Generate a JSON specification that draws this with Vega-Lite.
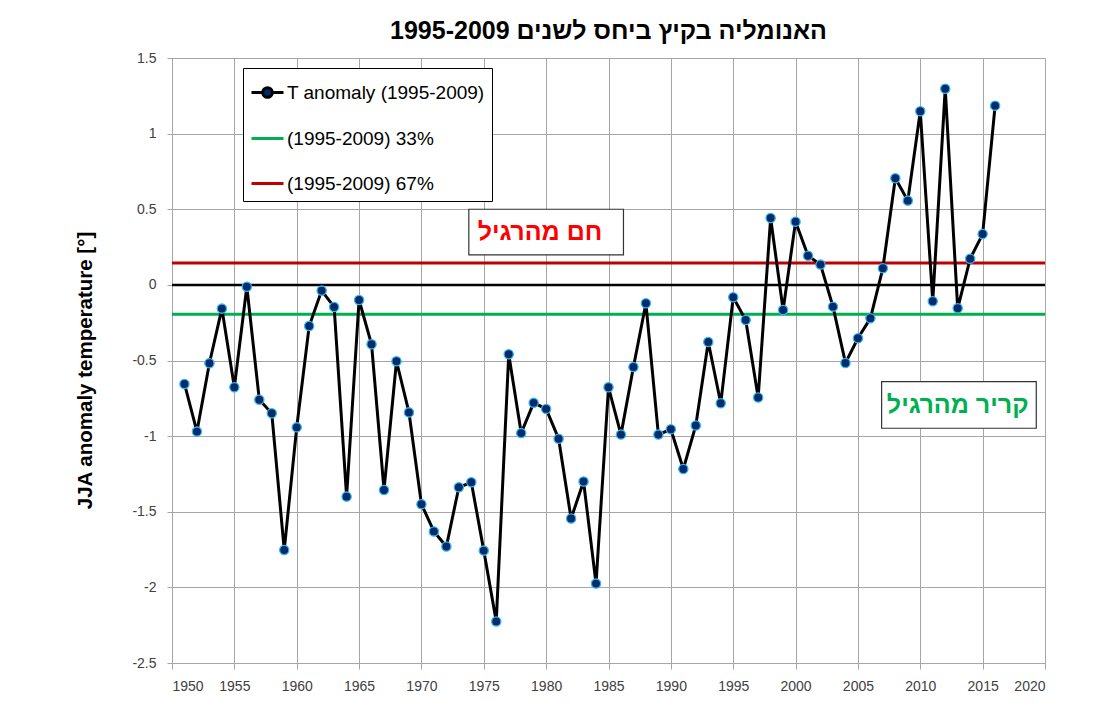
{
  "$schema": "https://vega.github.io/schema/vega-lite/v6.json",
  "width": 873,
  "height": 605,
  "autosize": {"type": "none"},
  "padding": {"left": 172, "top": 58, "right": 60, "bottom": 61},
  "background": "white",
  "title": {
    "text": "1995-2009 האנומליה בקיץ ביחס לשנים",
    "font": "Liberation Sans",
    "fontSize": 25,
    "fontWeight": "bold",
    "color": "#000000",
    "anchor": "middle",
    "offset": 7
  },
  "config": {
    "view": {"stroke": null},
    "axis": {
      "gridColor": "#a6a6a6",
      "gridWidth": 1,
      "domainColor": "#a6a6a6",
      "tickColor": "#a6a6a6",
      "labelFont": "Liberation Sans",
      "labelFontSize": 14,
      "labelColor": "#404040"
    }
  },
  "datasets": {
    "anom": [
      {"year": 1951, "value": -0.655, "series": "T anomaly (1995-2009)"},
      {"year": 1952, "value": -0.97, "series": "T anomaly (1995-2009)"},
      {"year": 1953, "value": -0.518, "series": "T anomaly (1995-2009)"},
      {"year": 1954, "value": -0.157, "series": "T anomaly (1995-2009)"},
      {"year": 1955, "value": -0.677, "series": "T anomaly (1995-2009)"},
      {"year": 1956, "value": -0.012, "series": "T anomaly (1995-2009)"},
      {"year": 1957, "value": -0.759, "series": "T anomaly (1995-2009)"},
      {"year": 1958, "value": -0.849, "series": "T anomaly (1995-2009)"},
      {"year": 1959, "value": -1.753, "series": "T anomaly (1995-2009)"},
      {"year": 1960, "value": -0.942, "series": "T anomaly (1995-2009)"},
      {"year": 1961, "value": -0.272, "series": "T anomaly (1995-2009)"},
      {"year": 1962, "value": -0.038, "series": "T anomaly (1995-2009)"},
      {"year": 1963, "value": -0.146, "series": "T anomaly (1995-2009)"},
      {"year": 1964, "value": -1.4, "series": "T anomaly (1995-2009)"},
      {"year": 1965, "value": -0.1, "series": "T anomaly (1995-2009)"},
      {"year": 1966, "value": -0.393, "series": "T anomaly (1995-2009)"},
      {"year": 1967, "value": -1.356, "series": "T anomaly (1995-2009)"},
      {"year": 1968, "value": -0.505, "series": "T anomaly (1995-2009)"},
      {"year": 1969, "value": -0.843, "series": "T anomaly (1995-2009)"},
      {"year": 1970, "value": -1.45, "series": "T anomaly (1995-2009)"},
      {"year": 1971, "value": -1.63, "series": "T anomaly (1995-2009)"},
      {"year": 1972, "value": -1.73, "series": "T anomaly (1995-2009)"},
      {"year": 1973, "value": -1.338, "series": "T anomaly (1995-2009)"},
      {"year": 1974, "value": -1.305, "series": "T anomaly (1995-2009)"},
      {"year": 1975, "value": -1.757, "series": "T anomaly (1995-2009)"},
      {"year": 1976, "value": -2.225, "series": "T anomaly (1995-2009)"},
      {"year": 1977, "value": -0.459, "series": "T anomaly (1995-2009)"},
      {"year": 1978, "value": -0.98, "series": "T anomaly (1995-2009)"},
      {"year": 1979, "value": -0.78, "series": "T anomaly (1995-2009)"},
      {"year": 1980, "value": -0.82, "series": "T anomaly (1995-2009)"},
      {"year": 1981, "value": -1.017, "series": "T anomaly (1995-2009)"},
      {"year": 1982, "value": -1.545, "series": "T anomaly (1995-2009)"},
      {"year": 1983, "value": -1.3, "series": "T anomaly (1995-2009)"},
      {"year": 1984, "value": -1.975, "series": "T anomaly (1995-2009)"},
      {"year": 1985, "value": -0.677, "series": "T anomaly (1995-2009)"},
      {"year": 1986, "value": -0.99, "series": "T anomaly (1995-2009)"},
      {"year": 1987, "value": -0.543, "series": "T anomaly (1995-2009)"},
      {"year": 1988, "value": -0.122, "series": "T anomaly (1995-2009)"},
      {"year": 1989, "value": -0.99, "series": "T anomaly (1995-2009)"},
      {"year": 1990, "value": -0.955, "series": "T anomaly (1995-2009)"},
      {"year": 1991, "value": -1.217, "series": "T anomaly (1995-2009)"},
      {"year": 1992, "value": -0.93, "series": "T anomaly (1995-2009)"},
      {"year": 1993, "value": -0.378, "series": "T anomaly (1995-2009)"},
      {"year": 1994, "value": -0.783, "series": "T anomaly (1995-2009)"},
      {"year": 1995, "value": -0.082, "series": "T anomaly (1995-2009)"},
      {"year": 1996, "value": -0.232, "series": "T anomaly (1995-2009)"},
      {"year": 1997, "value": -0.745, "series": "T anomaly (1995-2009)"},
      {"year": 1998, "value": 0.442, "series": "T anomaly (1995-2009)"},
      {"year": 1999, "value": -0.166, "series": "T anomaly (1995-2009)"},
      {"year": 2000, "value": 0.418, "series": "T anomaly (1995-2009)"},
      {"year": 2001, "value": 0.193, "series": "T anomaly (1995-2009)"},
      {"year": 2002, "value": 0.134, "series": "T anomaly (1995-2009)"},
      {"year": 2003, "value": -0.144, "series": "T anomaly (1995-2009)"},
      {"year": 2004, "value": -0.516, "series": "T anomaly (1995-2009)"},
      {"year": 2005, "value": -0.353, "series": "T anomaly (1995-2009)"},
      {"year": 2006, "value": -0.221, "series": "T anomaly (1995-2009)"},
      {"year": 2007, "value": 0.11, "series": "T anomaly (1995-2009)"},
      {"year": 2008, "value": 0.705, "series": "T anomaly (1995-2009)"},
      {"year": 2009, "value": 0.557, "series": "T anomaly (1995-2009)"},
      {"year": 2010, "value": 1.148, "series": "T anomaly (1995-2009)"},
      {"year": 2011, "value": -0.108, "series": "T anomaly (1995-2009)"},
      {"year": 2012, "value": 1.297, "series": "T anomaly (1995-2009)"},
      {"year": 2013, "value": -0.155, "series": "T anomaly (1995-2009)"},
      {"year": 2014, "value": 0.173, "series": "T anomaly (1995-2009)"},
      {"year": 2015, "value": 0.336, "series": "T anomaly (1995-2009)"},
      {"year": 2016, "value": 1.185, "series": "T anomaly (1995-2009)"}
    ],
    "thresholds": [
      {"series": "(1995-2009) 33%", "value": -0.195},
      {"series": "(1995-2009) 67%", "value": 0.145}
    ],
    "zero": [{"value": 0}],
    "warm": [{"label": "חם מהרגיל", "x1": 1973.8, "x2": 1986.2, "y1": 0.5, "y2": 0.198, "cx": 1979.5, "cy": 0.349}],
    "cool": [{"label": "קריר מהרגיל", "x1": 2006.9, "x2": 2019.3, "y1": -0.64, "y2": -0.948, "cx": 2013.0, "cy": -0.794}]
  },
  "layer": [
    {
      "data": {"name": "thresholds"},
      "mark": {"type": "rule", "strokeWidth": 3},
      "encoding": {
        "y": {"field": "value", "type": "quantitative", "scale": {"domain": [-2.5, 1.5], "nice": false, "zero": false},
          "axis": {
            "values": [-2.5, -2, -1.5, -1, -0.5, 0, 0.5, 1, 1.5],
            "labelExpr": "'' + datum.value",
            "tickSize": 5,
            "labelPadding": 11,
            "title": "JJA anomaly temperature [°]",
            "titleFont": "Liberation Sans",
            "titleFontSize": 20.5,
            "titleFontWeight": "bold",
            "titleColor": "#000000",
            "titleX": -77,
            "titleY": 312
          }},
        "color": {"field": "series", "type": "nominal",
          "scale": {"domain": ["T anomaly (1995-2009)", "(1995-2009) 33%", "(1995-2009) 67%"], "range": ["#000000", "#00b050", "#c00000"]},
          "legend": {
            "orient": "none", "legendX": 71, "legendY": 10,
            "title": null,
            "fillColor": "white", "strokeColor": "#000000",
            "padding": 7,
            "rowPadding": 17,
            "labelFont": "Liberation Sans", "labelFontSize": 19, "labelColor": "#000000",
            "labelLimit": 400,
            "labelOffset": 2,
            "symbolSize": 1024,
            "symbolStrokeWidth": 3,
            "encode": {"symbols": {"update": {
              "shape": {"signal": "datum.value === 'T anomaly (1995-2009)' ? 'M-1,0H-0.3M0.3,0H1M-0.3,0A0.3,0.3,0,1,1,0.3,0A0.3,0.3,0,1,1,-0.3,0Z' : 'M-1,0H1'"},
              "fill": {"signal": "datum.value === 'T anomaly (1995-2009)' ? '#002b6b' : 'transparent'"}
            }}}
          }}
      }
    },
    {
      "data": {"name": "zero"},
      "mark": {"type": "rule", "strokeWidth": 2.5, "color": "#000000"},
      "encoding": {"y": {"field": "value", "type": "quantitative"}}
    },
    {
      "data": {"name": "anom"},
      "mark": {"type": "line", "strokeWidth": 3},
      "encoding": {
        "x": {"field": "year", "type": "quantitative", "scale": {"domain": [1950, 2020], "nice": false, "zero": false},
          "axis": {"values": [1950, 1955, 1960, 1965, 1970, 1975, 1980, 1985, 1990, 1995, 2000, 2005, 2010, 2015, 2020], "format": "d", "tickSize": 6, "labelPadding": 10, "title": null}},
        "y": {"field": "value", "type": "quantitative"},
        "color": {"field": "series", "type": "nominal"}
      }
    },
    {
      "data": {"name": "anom"},
      "mark": {"type": "point", "filled": true, "size": 85, "fill": "#002b6b", "stroke": "#33b5f0", "strokeWidth": 1.3, "opacity": 1},
      "encoding": {
        "x": {"field": "year", "type": "quantitative"},
        "y": {"field": "value", "type": "quantitative"}
      }
    },
    {
      "data": {"name": "warm"},
      "mark": {"type": "rect", "fill": "white", "stroke": "#333333", "strokeWidth": 1.2},
      "encoding": {
        "x": {"field": "x1", "type": "quantitative"},
        "x2": {"field": "x2"},
        "y": {"field": "y1", "type": "quantitative"},
        "y2": {"field": "y2"}
      }
    },
    {
      "data": {"name": "warm"},
      "mark": {"type": "text", "font": "Liberation Sans", "fontSize": 25, "fontWeight": "bold", "color": "#ff0000", "baseline": "middle", "align": "center"},
      "encoding": {
        "x": {"field": "cx", "type": "quantitative"},
        "y": {"field": "cy", "type": "quantitative"},
        "text": {"field": "label"}
      }
    },
    {
      "data": {"name": "cool"},
      "mark": {"type": "rect", "fill": "white", "stroke": "#333333", "strokeWidth": 1.2},
      "encoding": {
        "x": {"field": "x1", "type": "quantitative"},
        "x2": {"field": "x2"},
        "y": {"field": "y1", "type": "quantitative"},
        "y2": {"field": "y2"}
      }
    },
    {
      "data": {"name": "cool"},
      "mark": {"type": "text", "font": "Liberation Sans", "fontSize": 25, "fontWeight": "bold", "color": "#00b050", "baseline": "middle", "align": "center"},
      "encoding": {
        "x": {"field": "cx", "type": "quantitative"},
        "y": {"field": "cy", "type": "quantitative"},
        "text": {"field": "label"}
      }
    }
  ]
}
